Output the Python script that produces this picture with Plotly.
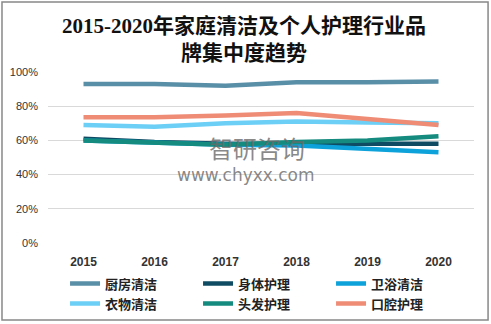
import plotly.graph_objects as go

years = ["2015", "2016", "2017", "2018", "2019", "2020"]
kitchen = [0.93, 0.93, 0.92, 0.94, 0.94, 0.945]
body = [0.61, 0.59, 0.58, 0.58, 0.575, 0.58]
bath = [0.60, 0.585, 0.575, 0.57, 0.55, 0.53]
clothes = [0.69, 0.68, 0.70, 0.71, 0.705, 0.70]
hair = [0.60, 0.585, 0.575, 0.59, 0.60, 0.625]
oral = [0.735, 0.735, 0.745, 0.76, 0.725, 0.69]

series = [
    ("厨房清洁", kitchen, "#5A8FA8"),
    ("身体护理", body, "#0F4C63"),
    ("卫浴清洁", bath, "#0DA2DA"),
    ("衣物清洁", clothes, "#6CCFF6"),
    ("头发护理", hair, "#148B7E"),
    ("口腔护理", oral, "#EE8C76"),
]

fig = go.Figure()
for name, vals, col in series:
    fig.add_trace(go.Scatter(x=years, y=vals, name=name, mode="lines",
                             line=dict(color=col, width=4.5)))

fig.update_layout(
    width=491, height=324,
    margin=dict(l=48, r=17, t=72, b=81, autoexpand=False),
    paper_bgcolor="white", plot_bgcolor="white",
    font=dict(family="Noto Sans CJK SC, sans-serif", color="#333"),
    xaxis=dict(type="category", range=[-0.5, 5.5], showgrid=False, showline=False,
               ticks="", ticklabelstandoff=10,
               tickfont=dict(size=12, color="#333", family="Liberation Sans, Arial"),
               tickprefix="<b>", ticksuffix="</b>"),
    yaxis=dict(range=[0, 1], tickvals=[0, 0.2, 0.4, 0.6, 0.8, 1.0], tickformat=".0%",
               showgrid=True, gridcolor="#D9D9D9", gridwidth=1, zeroline=False,
               ticklabelstandoff=9,
               tickfont=dict(size=11, color="#333", family="Liberation Sans, Arial")),
    legend=dict(orientation="h", x=0.04, xanchor="left", y=-0.15, yanchor="top",
                entrywidth=88, font=dict(size=13, color="#222", weight="bold"),
                tracegroupgap=0, itemwidth=30),
    showlegend=True,
)

fig.add_annotation(text="<b>2015-2020年家庭清洁及个人护理行业品<br>牌集中度趋势</b>",
                   x=0.46, y=1.19, xref="paper", yref="paper", showarrow=False,
                   xanchor="center", yanchor="middle",
                   font=dict(family="Liberation Serif, Noto Sans CJK SC", size=21, color="#111"))
fig.add_annotation(text="智研咨询", x=0.49, y=0.56, xref="paper", yref="paper",
                   showarrow=False, font=dict(size=24, color="rgba(105,105,105,0.8)"))
fig.add_annotation(text="www.chyxx.com", x=0.465, y=0.395, xref="paper", yref="paper",
                   showarrow=False, font=dict(size=17, color="rgba(105,105,105,0.8)",
                                              family="DejaVu Sans"))
fig.add_shape(type="rect", xref="paper", yref="paper", x0=-0.108, x1=1.033, y0=-0.45, y1=1.409,
              line=dict(color="#888", width=1.5), fillcolor="rgba(0,0,0,0)", layer="above")

fig.write_html("out.html")
